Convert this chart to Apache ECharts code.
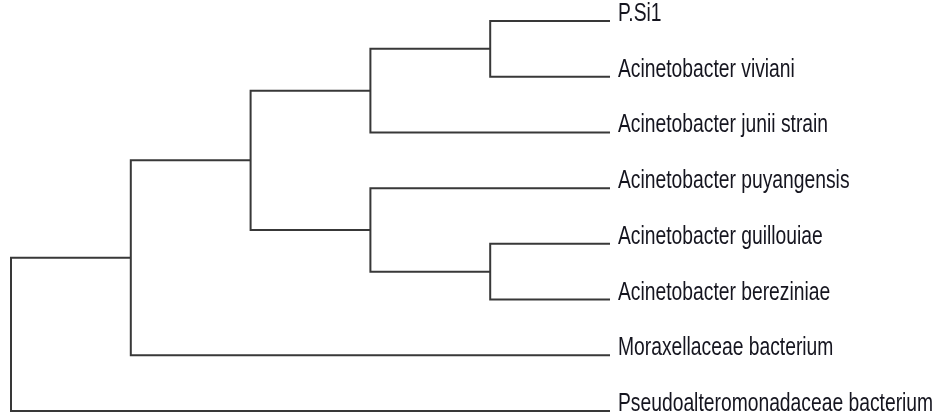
<!DOCTYPE html>
<html>
<head>
<meta charset="utf-8">
<script src="https://cdn.jsdelivr.net/npm/echarts@6/dist/echarts.min.js"></script>
<style>html,body{margin:0;padding:0;background:#fff;}#c{width:938px;height:420px;}</style>
</head>
<body>
<div id="c"></div>
<script>
// Leaf labels, top to bottom
const leaves = [
  'P.Si1',
  'Acinetobacter viviani',
  'Acinetobacter junii strain',
  'Acinetobacter puyangensis',
  'Acinetobacter guillouiae',
  'Acinetobacter bereziniae',
  'Moraxellaceae bacterium',
  'Pseudoalteromonadaceae bacterium'
];
// Tree topology (leaf indices), nested pairs
const topology = [[[[[0, 1], 2], [3, [4, 5]]], 6], 7];

function maxDepth(n) { return Array.isArray(n) ? 1 + Math.max(maxDepth(n[0]), maxDepth(n[1])) : 0; }
const D = maxDepth(topology);

const segments = [];
function layout(n, depth) {
  if (!Array.isArray(n)) return { x: D, y: n };
  const a = layout(n[0], depth + 1), b = layout(n[1], depth + 1);
  segments.push({ coords: [[a.x, a.y], [depth, a.y], [depth, b.y], [b.x, b.y]] });
  return { x: depth, y: (a.y + b.y) / 2 };
}
layout(topology, 0);

const leafPoints = leaves.map((name, i) => ({ name: name, value: [D, i] }));

const chart = echarts.init(document.getElementById('c'), null, { renderer: 'canvas' });
chart.setOption({
  animation: false,
  backgroundColor: '#ffffff',
  grid: { left: 11, right: 328, top: 21, bottom: 9 },
  xAxis: { type: 'value', min: 0, max: D, show: false },
  yAxis: { type: 'value', min: 0, max: leaves.length - 1, inverse: true, show: false },
  series: [
    {
      type: 'lines',
      coordinateSystem: 'cartesian2d',
      polyline: true,
      silent: true,
      lineStyle: { color: '#383838', width: 2, opacity: 1 },
      data: segments
    },
    {
      type: 'custom',
      silent: true,
      data: leafPoints,
      renderItem: function (params, api) {
        const pt = api.coord([api.value(0), api.value(1)]);
        return {
          type: 'text',
          x: pt[0] + 8,
          y: pt[1] - 7,
          scaleY: 1.32,
          style: {
            text: leaves[params.dataIndex],
            font: '19.3px "Liberation Sans", Arial, sans-serif',
            fill: '#15151f',
            align: 'left',
            verticalAlign: 'middle'
          }
        };
      }
    }
  ]
});
</script>
</body>
</html>
